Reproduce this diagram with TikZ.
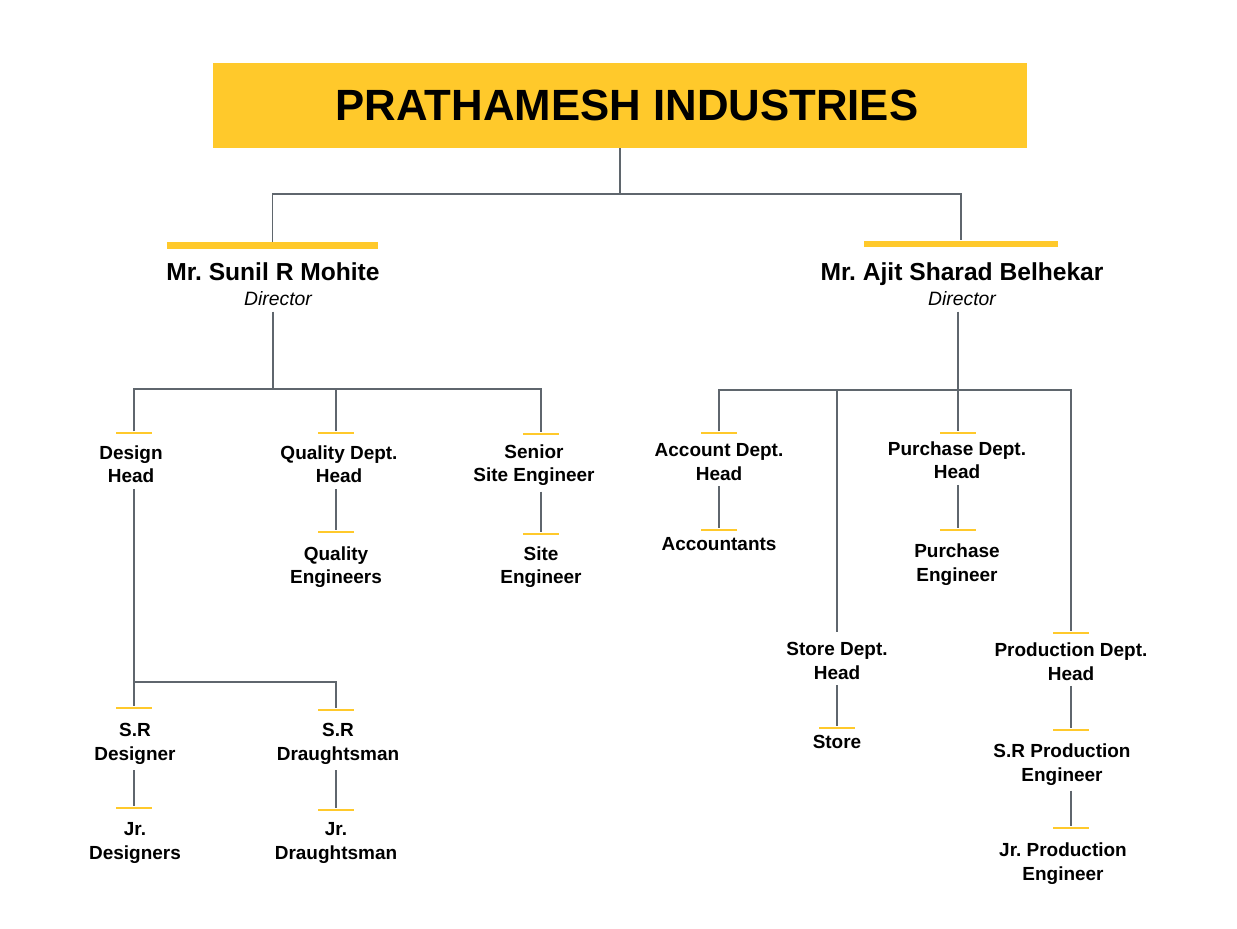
\documentclass[tikz,border=0pt]{standalone}
\usepackage{fontspec}
\setmainfont{Liberation Sans}
\usepackage{tikz}
\definecolor{baryellow}{HTML}{FFC92B}
\definecolor{linegray}{HTML}{5F666D}
\tikzset{
    title box/.style={
        fill=baryellow,inner sep=0pt,
        minimum width=16.28cm,minimum height=1.7cm,
        font=\fontsize{24.9}{29}\selectfont\bfseries
    },
    director bar/.style={fill=baryellow,inner sep=0pt,minimum height=.13cm},
    director/.style={anchor=north,inner sep=0pt,font=\fontsize{14}{16}\selectfont\bfseries},
    post/.style={anchor=north,inner sep=0pt,font=\fontsize{11}{13}\selectfont\itshape},
    role/.style={
        anchor=north,align=center,inner sep=0pt,
        font=\fontsize{10.8}{13.6}\selectfont\bfseries
    },
    tick/.style={fill=baryellow,inner sep=0pt,minimum width=.72cm,minimum height=.05cm},
    link/.style={draw=linegray,line width=1.1pt},
    from text/.style={shorten <=3pt}
}

\begin{document}
\begin{tikzpicture}[x=0.02cm,y=-0.02cm]
\useasboundingbox (0,0) rectangle (1237,929);
% company and directors
\node[title box] (title) at (620,105.5) {\hspace{.28cm}PRATHAMESH INDUSTRIES};
\node[director bar,minimum width=4.22cm] (bar1) at (272.5,245.5) {};
\node[director bar,minimum width=3.88cm] (bar2) at (961,244) {};
\node[director] (name1) at (273,262) {Mr.\ Sunil R Mohite};
\node[post] (post1) at (278,291.5) {Director};
\node[director] (name2) at (962,262) {Mr.\ Ajit Sharad Belhekar};
\node[post] (post2) at (962,291.5) {Director};

% yellow marks above each post
\foreach \name/\x/\y in {design/134/433,quality/336/433,senior/541/434,
    qeng/336/532,seng/541/534,srdes/134/708,srdra/336/710,jrdes/134/808,
    jrdra/336/810,account/719/433,purchase/958/433,accnt/719/530,peng/958/530,
    prod/1071/633,store/837/728,srprod/1071/730,jrprod/1071/828}
    \node[tick] (tk-\name) at (\x,\y) {};

% left side
\node[role] (design) at (131,445) {Design\\Head};
\node[role] (quality) at (339,445) {Quality Dept.\\Head};
\node[role] (senior) at (534,444) {Senior\\Site Engineer};
\node[role] (qeng) at (336,546) {Quality\\Engineers};
\node[role] (seng) at (541,546) {Site\\Engineer};
\node[role] (srdes) at (135,723) {S.R\\Designer};
\node[role] (srdra) at (338,723) {S.R\\Draughtsman};
\node[role] (jrdes) at (135,822) {Jr.\\Designers};
\node[role] (jrdra) at (336,822) {Jr.\\Draughtsman};

% right side
\node[role] (account) at (719,443) {Account Dept.\\Head};
\node[role] (accnt) at (719,537) {Accountants};
\node[role] (purchase) at (957,441) {Purchase Dept.\\Head};
\node[role] (peng) at (957,543) {Purchase\\Engineer};
\node[role] (storehead) at (837,642) {Store Dept.\\Head};
\node[role] (store) at (837,735) {Store};
\node[role] (prod) at (1071,642) {Production Dept.\\Head};
\node[role] (srprod) at (1062,743) {S.R Production\\Engineer};
\node[role] (jrprod) at (1063,842) {Jr.\ Production\\Engineer};

\coordinate (lbus) at (273,389);
\coordinate (rbus) at (958,390);
\coordinate (dbus) at (134,682);

% connectors
\draw[link] (title.south) -- ++(0,46) coordinate (top bus) -| (bar1.north);
\draw[link] (top bus) -| (bar2.north);

\draw[link,from text] (post1.south -| lbus) -- (lbus);
\draw[link] (tk-design.north) |- (lbus) -| (tk-senior.north);
\draw[link] (lbus -| tk-quality) -- (tk-quality.north);
\draw[link,from text] (quality.south -| tk-qeng) -- (tk-qeng.north);
\draw[link,from text] (senior.south -| tk-seng) -- (tk-seng.north);
\draw[link,from text] (design.south -| tk-srdes) -- (tk-srdes.north);
\draw[link] (dbus) -| (tk-srdra.north);
\draw[link,from text] (srdes.south -| tk-jrdes) -- (tk-jrdes.north);
\draw[link,from text] (srdra.south -| tk-jrdra) -- (tk-jrdra.north);

\draw[link,from text] (post2.south -| rbus) -- (tk-purchase.north);
\draw[link] (tk-account.north) |- (rbus) -| (tk-prod.north);
\draw[link,shorten >=5.7pt] (rbus -| storehead) -- (storehead.north);
\draw[link,from text] (account.south -| tk-accnt) -- (tk-accnt.north);
\draw[link,from text] (purchase.south -| tk-peng) -- (tk-peng.north);
\draw[link,from text] (storehead.south -| tk-store) -- (tk-store.north);
\draw[link,from text] (prod.south -| tk-srprod) -- (tk-srprod.north);
\draw[link,from text] (srprod.south -| tk-jrprod) -- (tk-jrprod.north);
\end{tikzpicture}
\end{document}
